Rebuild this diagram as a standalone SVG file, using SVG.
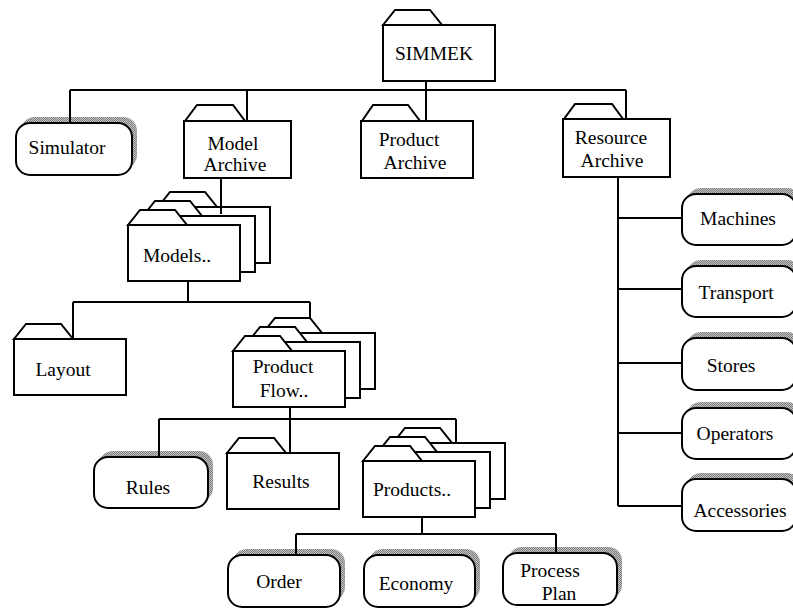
<svg xmlns="http://www.w3.org/2000/svg" width="793" height="608" viewBox="0 0 793 608">
  <style>
    .box { fill: #fff; stroke: #000; stroke-width: 2; }
    .tab { fill: #fff; stroke: #000; stroke-width: 2; stroke-linejoin: miter; }
    .shadow { fill: url(#grain); stroke: none; }
    .wire { fill: none; stroke: #000; stroke-width: 2; }
    text { font-family: 'Liberation Serif', 'DejaVu Serif', serif; font-size: 19.5px; fill: #000; text-anchor: middle; }
  </style>
  <defs>
    <!-- grainy grey fill used for the drop shadows of rounded nodes -->
    <pattern id="grain" width="2" height="2" patternUnits="userSpaceOnUse">
      <rect width="2" height="2" fill="#c4c4c4"/>
      <rect width="1" height="1" fill="#7c7c7c"/>
      <rect x="1" y="1" width="1" height="1" fill="#7c7c7c"/>
    </pattern>
    <!-- folder: tab + body, origin at body's top-left -->
    <g id="folder">
      <polygon class="tab" points="0,0 12,-15 47,-15 59,0"/>
      <rect class="box" x="0" y="0" width="112" height="56"/>
    </g>
    <!-- stack of three folders, front folder at origin -->
    <g id="stack">
      <use href="#folder" x="30" y="-18"/>
      <use href="#folder" x="15" y="-9"/>
      <use href="#folder" x="0" y="0"/>
    </g>
  </defs>

  <!-- root -->
  <g id="simmek">
    <use href="#folder" x="383" y="25"/>
    <text x="434" y="60" font-family="Liberation Serif, serif">SIMMEK</text>
  </g>

  <!-- first level -->
  <g id="simulator">
    <rect class="shadow" x="21" y="117" width="116" height="52" rx="14"/>
    <rect class="box" x="16" y="123" width="116" height="52" rx="14"/>
    <text x="67" y="154">Simulator</text>
  </g>
  <g id="model-archive">
    <polygon class="tab" points="185,121 197,105 233,105 245,121"/>
    <rect class="box" x="184" y="121" width="107" height="57"/>
    <text x="233" y="150">Model</text>
    <text x="235" y="171">Archive</text>
  </g>
  <g id="product-archive">
    <polygon class="tab" points="362,121 373,105 408,105 420,121"/>
    <rect class="box" x="361" y="121" width="112" height="57"/>
    <text x="409" y="146">Product</text>
    <text x="415" y="169">Archive</text>
  </g>
  <g id="resource-archive">
    <polygon class="tab" points="564,119 575,104 612,104 623,119"/>
    <rect class="box" x="563" y="119" width="107" height="58"/>
    <text x="611" y="144">Resource</text>
    <text x="612" y="167">Archive</text>
  </g>

  <!-- model branch -->
  <g id="models">
    <use href="#stack" x="128" y="225"/>
    <text x="177" y="262">Models..</text>
  </g>
  <g id="layout">
    <use href="#folder" x="14" y="339"/>
    <text x="63" y="376">Layout</text>
  </g>
  <g id="product-flow">
    <use href="#stack" x="233" y="351"/>
    <text x="283" y="373">Product</text>
    <text x="284" y="397">Flow..</text>
  </g>
  <g id="rules">
    <rect class="shadow" x="99" y="451" width="114" height="51" rx="14"/>
    <rect class="box" x="94" y="457" width="114" height="51" rx="14"/>
    <text x="148" y="494">Rules</text>
  </g>
  <g id="results">
    <use href="#folder" x="227" y="453"/>
    <text x="281" y="488">Results</text>
  </g>
  <g id="products">
    <use href="#stack" x="363" y="461"/>
    <text x="412" y="496">Products..</text>
  </g>
  <g id="order">
    <rect class="shadow" x="233" y="549" width="112" height="52" rx="14"/>
    <rect class="box" x="228" y="555" width="112" height="52" rx="14"/>
    <text x="279" y="588">Order</text>
  </g>
  <g id="economy">
    <rect class="shadow" x="369" y="549" width="111" height="52" rx="14"/>
    <rect class="box" x="364" y="555" width="111" height="52" rx="14"/>
    <text x="416" y="590">Economy</text>
  </g>
  <g id="process-plan">
    <rect class="shadow" x="508" y="547" width="114" height="52" rx="14"/>
    <rect class="box" x="503" y="553" width="114" height="52" rx="14"/>
    <text x="550" y="577">Process</text>
    <text x="559" y="600">Plan</text>
  </g>

  <!-- resource branch -->
  <g id="machines">
    <rect class="shadow" x="687" y="188" width="114" height="51" rx="14"/>
    <rect class="box" x="682" y="194" width="114" height="51" rx="14"/>
    <text x="738" y="225">Machines</text>
  </g>
  <g id="transport">
    <rect class="shadow" x="687" y="260" width="114" height="51" rx="14"/>
    <rect class="box" x="682" y="266" width="114" height="51" rx="14"/>
    <text x="736" y="299">Transport</text>
  </g>
  <g id="stores">
    <rect class="shadow" x="687" y="332" width="114" height="52" rx="14"/>
    <rect class="box" x="682" y="338" width="114" height="52" rx="14"/>
    <text x="731" y="372">Stores</text>
  </g>
  <g id="operators">
    <rect class="shadow" x="687" y="402" width="114" height="51" rx="14"/>
    <rect class="box" x="682" y="408" width="114" height="51" rx="14"/>
    <text x="735" y="440">Operators</text>
  </g>
  <g id="accessories">
    <rect class="shadow" x="687" y="473" width="114" height="52" rx="14"/>
    <rect class="box" x="682" y="479" width="114" height="52" rx="14"/>
    <text x="740" y="517">Accessories</text>
  </g>

  <!-- connectors -->
  <g id="connectors" class="wire">
    <path d="M426,81 V90 M70,90 H626 M70,90 V123 M247,90 V121 M426,90 V121 M626,90 V119"/>
    <path d="M221,178 V214"/>
    <path d="M188,281 V302 M73,302 H310 M73,302 V339 M310,302 V318"/>
    <path d="M290,407 V419 M159,419 H456 M159,419 V457 M290,419 V453 M456,419 V443"/>
    <path d="M422,517 V534 M296,534 H556 M296,534 V555 M556,534 V553"/>
    <path d="M618,177 V506 M618,218 H682 M618,289 H682 M618,363 H682 M618,433 H682 M618,506 H682"/>
  </g>
</svg>
